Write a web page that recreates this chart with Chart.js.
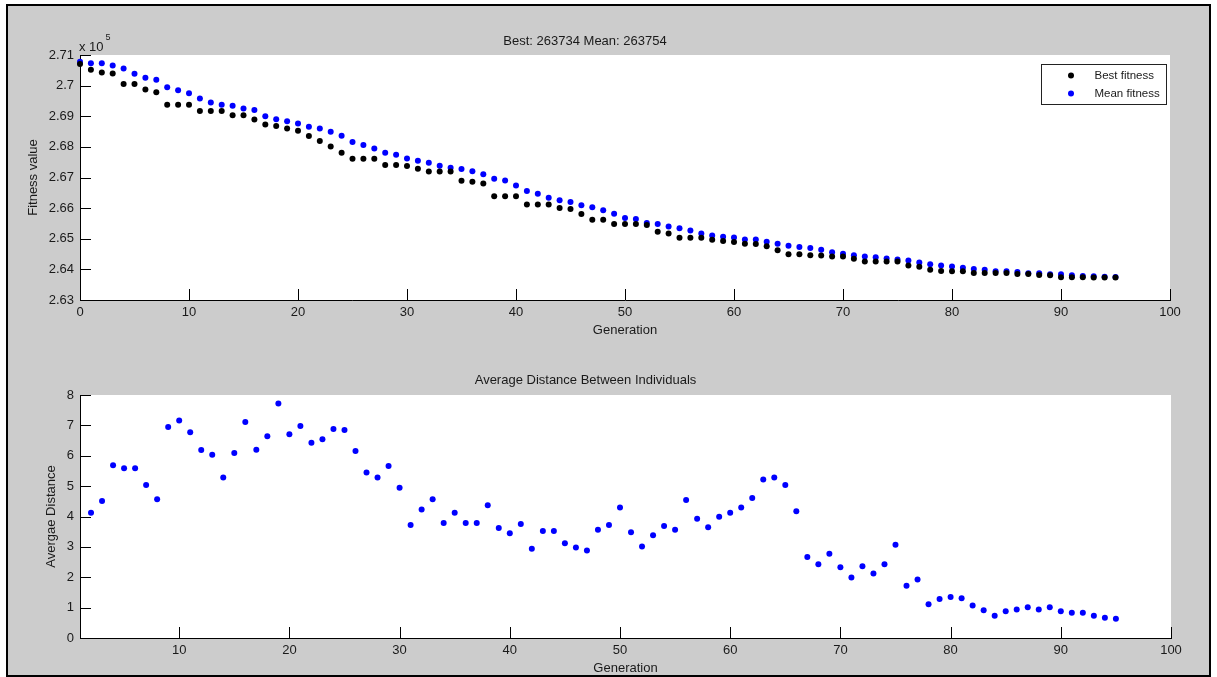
<!DOCTYPE html>
<html>
<head>
<meta charset="utf-8">
<title>GA progress</title>
<script src="https://cdn.jsdelivr.net/npm/chart.js@4.4.1/dist/chart.umd.min.js"></script>
<style>
  html, body { margin: 0; padding: 0; background: #fff; }
  #frame {
    position: absolute; left: 6px; top: 4px;
    width: 1201px; height: 669px;
    background: #cccccc; border: 2px solid #000;
  }
  canvas { position: absolute; left: 0; }
  #fitCanvas { top: 0; }
  #distCanvas { top: 345px; }
</style>
</head>
<body>
<div id="frame"></div>
<canvas id="fitCanvas" width="1217" height="345"></canvas>
<canvas id="distCanvas" width="1217" height="332"></canvas>
<script>
// data
var fitFirstGen = 0;
var bestFitness = [
  270705, 270519, 270432, 270399, 270049, 270049, 269874, 269787, 269372, 269372,
  269372, 269175, 269175, 269175, 269033, 269033, 268891, 268727, 268683, 268596,
  268530, 268355, 268191, 268016, 267809, 267612, 267612, 267612, 267410, 267410,
  267372, 267285, 267197, 267197, 267197, 266892, 266860, 266803, 266390, 266390,
  266390, 266115, 266115, 266115, 266005, 265973, 265809, 265623, 265623, 265481,
  265481, 265481, 265448, 265229, 265175, 265033, 265033, 265033, 264967, 264923,
  264891, 264836, 264825, 264759, 264628, 264497, 264497, 264460, 264454, 264421,
  264421, 264344, 264257, 264257, 264257, 264257, 264126, 264082, 263984, 263951,
  263940, 263940, 263885, 263885, 263885, 263885, 263850, 263845, 263820, 263809,
  263743, 263743, 263743, 263734, 263734, 263734
];
var meanFitness = [
  270781, 270727, 270727, 270661, 270563, 270388, 270257, 270191, 269951, 269852,
  269754, 269579, 269448, 269372, 269339, 269251, 269208, 269000, 268902, 268836,
  268760, 268661, 268596, 268497, 268366, 268158, 268060, 267951, 267809, 267743,
  267620, 267546, 267481, 267383, 267320, 267280, 267208, 267110, 266962, 266902,
  266738, 266563, 266470, 266338, 266257, 266202, 266093, 266027, 265929, 265820,
  265678, 265645, 265514, 265481, 265404, 265339, 265273, 265175, 265109, 265066,
  265044, 264978, 264978, 264902, 264836, 264770, 264727, 264694, 264639, 264563,
  264508, 264464, 264421, 264399, 264355, 264322, 264290, 264224, 264169, 264126,
  264093, 264049, 264016, 263984, 263940, 263940, 263918, 263874, 263874, 263842,
  263842, 263809, 263780, 263775, 263760, 263754
];

var distFirstGen = 2;
var avgDistance = [
  4.12, 4.51, 5.69, 5.59, 5.59, 5.04, 4.57, 6.95, 7.16, 6.77,
  6.19, 6.03, 5.28, 6.09, 7.11, 6.20, 6.64, 7.72, 6.71, 6.98,
  6.43, 6.54, 6.88, 6.85, 6.16, 5.45, 5.28, 5.66, 4.95, 3.72,
  4.23, 4.57, 3.79, 4.12, 3.79, 3.79, 4.37, 3.62, 3.45, 3.75,
  2.94, 3.52, 3.52, 3.12, 2.98, 2.88, 3.56, 3.72, 4.30, 3.48,
  3.01, 3.38, 3.69, 3.56, 4.54, 3.93, 3.65, 3.99, 4.12, 4.30,
  4.61, 5.22, 5.28, 5.04, 4.17, 2.67, 2.43, 2.77, 2.33, 1.99,
  2.36, 2.12, 2.43, 3.07, 1.72, 1.93, 1.11, 1.28, 1.35, 1.31,
  1.07, 0.91, 0.73, 0.88, 0.94, 1.01, 0.94, 1.01, 0.88, 0.83,
  0.83, 0.73, 0.67, 0.63
];

var fitTicks = [263000, 264000, 265000, 266000, 267000, 268000, 269000, 270000, 271000];
var fitTickLabels = ['2.63', '2.64', '2.65', '2.66', '2.67', '2.68', '2.69', '2.7', '2.71'];
var genTicksTop = [0, 10, 20, 30, 40, 50, 60, 70, 80, 90, 100];
var genTicksBottom = [10, 20, 30, 40, 50, 60, 70, 80, 90, 100];
var distTicks = [0, 1, 2, 3, 4, 5, 6, 7, 8];

var fontFamily = '"Liberation Sans", Arial, sans-serif';
var textColor = '#1a1a1a';
var dotRadius = 3;

function toPoints(values, firstGen) {
  return values.map(function (v, i) { return { x: firstGen + i, y: v }; });
}

// white plot background like matlab axes
var whiteArea = {
  id: 'whiteArea',
  beforeDraw: function (chart) {
    var a = chart.chartArea;
    chart.ctx.save();
    chart.ctx.fillStyle = '#ffffff';
    chart.ctx.fillRect(a.left, a.top, a.right - a.left, a.bottom - a.top);
    chart.ctx.restore();
  }
};

// tick marks pointing into the plot
var innerTicks = {
  id: 'innerTicks',
  afterDraw: function (chart) {
    var ctx = chart.ctx;
    var a = chart.chartArea;
    var len = 11;
    ctx.save();
    ctx.strokeStyle = '#000';
    ctx.lineWidth = 1;
    ctx.beginPath();
    chart.scales.x.ticks.forEach(function (t) {
      var px = Math.round(chart.scales.x.getPixelForValue(t.value)) + 0.5;
      ctx.moveTo(px, a.bottom);
      ctx.lineTo(px, a.bottom - len);
    });
    chart.scales.y.ticks.forEach(function (t) {
      var py = Math.round(chart.scales.y.getPixelForValue(t.value)) + 0.5;
      ctx.moveTo(a.left, py);
      ctx.lineTo(a.left + len, py);
    });
    ctx.stroke();
    ctx.restore();
  }
};

// "x 10^5" exponent note and boxed legend for the top plot
var fitExtras = {
  id: 'fitExtras',
  afterDraw: function (chart) {
    var ctx = chart.ctx;
    var a = chart.chartArea;
    ctx.save();
    ctx.fillStyle = textColor;
    ctx.textBaseline = 'alphabetic';
    ctx.textAlign = 'left';
    ctx.font = '13px ' + fontFamily;
    ctx.fillText('x 10', a.left - 1, a.top - 4);
    var w = ctx.measureText('x 10').width;
    ctx.font = '9px ' + fontFamily;
    ctx.fillText('5', a.left + w + 1, a.top - 15);

    var bw = 125, bh = 40;
    var bx = Math.round(a.right - 4 - bw) + 0.5;
    var by = Math.round(a.top + 9) + 0.5;
    ctx.fillStyle = '#ffffff';
    ctx.fillRect(bx, by, bw, bh);
    ctx.strokeStyle = '#222';
    ctx.lineWidth = 1;
    ctx.strokeRect(bx, by, bw, bh);
    ctx.font = '11.5px ' + fontFamily;
    ctx.textBaseline = 'middle';
    chart.data.datasets.forEach(function (ds, i) {
      var cy = by + 11 + i * 18;
      ctx.fillStyle = ds.backgroundColor;
      ctx.beginPath();
      ctx.arc(bx + 29.5, cy, dotRadius, 0, Math.PI * 2);
      ctx.fill();
      ctx.fillStyle = textColor;
      ctx.fillText(ds.label, bx + 53, cy + 0.5);
    });
    ctx.restore();
  }
};

function tickFont() {
  return { family: fontFamily, size: 13 };
}

var fitChart = new Chart(document.getElementById('fitCanvas'), {
  type: 'scatter',
  data: {
    datasets: [
      {
        label: 'Best fitness',
        data: toPoints(bestFitness, fitFirstGen),
        backgroundColor: '#000000',
        borderWidth: 0,
        pointRadius: dotRadius,
        clip: false
      },
      {
        label: 'Mean fitness',
        data: toPoints(meanFitness, fitFirstGen),
        backgroundColor: '#0000ff',
        borderWidth: 0,
        pointRadius: dotRadius,
        clip: false
      }
    ]
  },
  options: {
    responsive: false,
    animation: false,
    devicePixelRatio: 1,
    layout: { padding: { left: 0, right: 47, top: 0, bottom: 0 } },
    plugins: {
      legend: { display: false },
      tooltip: { enabled: false },
      title: {
        display: true,
        text: 'Best: 263734 Mean: 263754',
        color: textColor,
        font: { family: fontFamily, size: 13, weight: 'normal' },
        padding: { top: 33.9, bottom: 5.5 }
      }
    },
    scales: {
      x: {
        type: 'linear',
        min: 0,
        max: 100,
        afterBuildTicks: function (s) { s.ticks = genTicksTop.map(function (v) { return { value: v }; }); },
        afterFit: function (s) { s.height = 45; },
        grid: { display: false, drawTicks: false },
        border: { display: true, color: '#000', width: 1 },
        ticks: { padding: 5, color: textColor, font: tickFont(), maxRotation: 0 },
        title: {
          display: true, text: 'Generation', color: textColor,
          font: { family: fontFamily, size: 13 }, padding: { top: 0, bottom: 7.2 }
        }
      },
      y: {
        type: 'linear',
        min: 263000,
        max: 271000,
        afterBuildTicks: function (s) { s.ticks = fitTicks.map(function (v) { return { value: v }; }); },
        afterFit: function (s) { s.width = 80; },
        grid: { display: false, drawTicks: false },
        border: { display: true, color: '#000', width: 1 },
        ticks: {
          padding: 6, color: textColor, font: tickFont(),
          callback: function (value, index) { return fitTickLabels[index]; }
        },
        title: {
          display: true, text: 'Fitness value', color: textColor,
          font: { family: fontFamily, size: 13 }, padding: { top: 25.2, bottom: 0 }
        }
      }
    }
  },
  plugins: [whiteArea, innerTicks, fitExtras]
});

var distChart = new Chart(document.getElementById('distCanvas'), {
  type: 'scatter',
  data: {
    datasets: [
      {
        label: 'Average distance',
        data: toPoints(avgDistance, distFirstGen),
        backgroundColor: '#0000ff',
        borderWidth: 0,
        pointRadius: dotRadius
      }
    ]
  },
  options: {
    responsive: false,
    animation: false,
    devicePixelRatio: 1,
    layout: { padding: { left: 0, right: 46, top: 0, bottom: 0 } },
    plugins: {
      legend: { display: false },
      tooltip: { enabled: false },
      title: {
        display: true,
        text: 'Average Distance Between Individuals',
        color: textColor,
        font: { family: fontFamily, size: 13, weight: 'normal' },
        padding: { top: 27.2, bottom: 7.2 }
      }
    },
    scales: {
      x: {
        type: 'linear',
        min: 1,
        max: 100,
        afterBuildTicks: function (s) { s.ticks = genTicksBottom.map(function (v) { return { value: v }; }); },
        afterFit: function (s) { s.height = 39; },
        grid: { display: false, drawTicks: false },
        border: { display: true, color: '#000', width: 1 },
        ticks: { padding: 5, color: textColor, font: tickFont(), maxRotation: 0 },
        title: {
          display: true, text: 'Generation', color: textColor,
          font: { family: fontFamily, size: 13 }, padding: { top: 0, bottom: 1.2 }
        }
      },
      y: {
        type: 'linear',
        min: 0,
        max: 8,
        afterBuildTicks: function (s) { s.ticks = distTicks.map(function (v) { return { value: v }; }); },
        afterFit: function (s) { s.width = 80; },
        grid: { display: false, drawTicks: false },
        border: { display: true, color: '#000', width: 1 },
        ticks: { padding: 6, color: textColor, font: tickFont() },
        title: {
          display: true, text: 'Avergae Distance', color: textColor,
          font: { family: fontFamily, size: 13 }, padding: { top: 43.9, bottom: 0 }
        }
      }
    }
  },
  plugins: [whiteArea, innerTicks]
});
</script>
</body>
</html>
